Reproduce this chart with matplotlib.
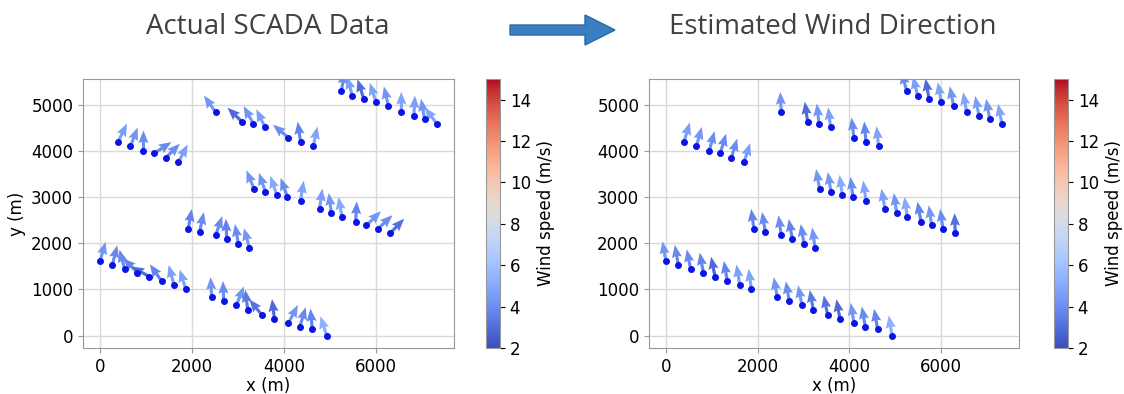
import numpy as np
import matplotlib
matplotlib.use('Agg')
import matplotlib.pyplot as plt
import matplotlib.patches as mpatches

# turbine positions (m), grouped by row
x_pos = [0, 269, 538, 814, 1069, 1338, 1607, 1862,
         2428, 2690, 2966, 3213, 3526, 3795, 4100, 4347, 4616, 4929,
         1919, 2166, 2515, 2755, 3010, 3250,
         3351, 3599, 3846, 4078, 4362, 4776, 5031, 5263, 5562, 5794, 6041, 6310,
         393, 662, 945, 1185, 1425, 1701,
         2515, 3090, 3337, 3591, 4100, 4362, 4638,
         5249, 5489, 5736, 6005, 6274, 6558, 6827, 7059, 7328]
y_pos = [1609, 1530, 1436, 1364, 1277, 1183, 1104, 1010,
         830, 743, 657, 556, 440, 354, 274, 195, 144, 0,
         2309, 2244, 2172, 2092, 1984, 1905,
         3175, 3110, 3045, 3001, 2922, 2749, 2655, 2569, 2468, 2388, 2309, 2215,
         4199, 4098, 4004, 3954, 3846, 3752,
         4841, 4632, 4589, 4509, 4286, 4199, 4098,
         5296, 5188, 5137, 5058, 4971, 4841, 4762, 4697, 4589]

# wind speed (m/s) per turbine
speed = [4.3, 3.9, 3.9, 3.7, 2.9, 3.7, 4.6, 4.8,
         4.3, 4.0, 4.3, 3.4, 3.2, 2.9, 4.3, 3.9, 3.7, 5.2,
         3.7, 3.9, 4.0, 3.7, 4.0, 4.3,
         4.3, 4.3, 5.0, 4.0, 4.8, 4.6, 4.3, 5.0, 3.7, 4.3, 4.0, 3.1,
         4.6, 4.3, 4.0, 3.9, 4.0, 4.6,
         4.3, 2.9, 4.3, 4.6, 4.0, 3.7, 4.8,
         4.0, 4.6, 3.0, 4.8, 4.3, 4.8, 4.6, 4.3, 4.8]

# arrow direction (deg, counter-clockwise from +x)
dir_actual = [74, 76, 105, 135, 150, 125, 105, 107,
              93, 92, 68, 97, 129, 97, 62, 73, 95, 108,
              80, 78, 71, 92, 100, 106,
              112, 109, 109, 110, 81, 82, 97, 100, 87, 44, 43, 46,
              64, 69, 90, 33, 45, 62,
              125, 136, 119, 116, 140, 98, 78,
              80, 105, 108, 108, 103, 91, 87, 100, 127]
dir_est = [100, 100, 101, 100, 101, 100, 99, 98,
           100, 100, 101, 100, 101, 100, 99, 100, 100, 99,
           98, 99, 98, 100, 99, 98,
           100, 99, 98, 97, 98, 100, 98, 98, 100, 98, 98, 92,
           73, 74, 75, 73, 73, 72,
           93, 98, 96, 97, 97, 95, 96,
           104, 103, 100, 100, 101, 100, 101, 100, 101]

x = np.array(x_pos)
y = np.array(y_pos)
c = np.array(speed)
arrow_len = 440

fig = plt.figure(figsize=(11.24, 3.94), dpi=100)

ax1 = fig.add_axes([83/1124, 46/394, 371/1124, 269/394])
ax2 = fig.add_axes([649/1124, 46/394, 370/1124, 269/394])
cax1 = fig.add_axes([486/1124, 46/394, 14/1124, 269/394])
cax2 = fig.add_axes([1054/1124, 46/394, 14/1124, 269/394])

for ax, cax, d, show_y in [(ax1, cax1, dir_actual, True), (ax2, cax2, dir_est, False)]:
    th = np.deg2rad(np.array(d))
    u = arrow_len * np.cos(th)
    v = arrow_len * np.sin(th)
    q = ax.quiver(x, y, u, v, c, cmap='coolwarm', clim=(2, 15),
                  angles='xy', scale_units='xy', scale=1,
                  width=0.0085, headwidth=3.2, headlength=4, headaxislength=3.6,
                  zorder=3)
    ax.scatter(x, y, s=16, color='#0a14e6', zorder=4)
    ax.set_xlim(-370, 7700)
    ax.set_ylim(-270, 5560)
    ax.set_xticks([0, 2000, 4000, 6000])
    ax.set_yticks([0, 1000, 2000, 3000, 4000, 5000])
    ax.grid(True, color='#d9d9d9', lw=1)
    ax.set_axisbelow(True)
    for s in ax.spines.values():
        s.set_color('#999999')
    ax.tick_params(labelsize=12, color='#999999')
    ax.set_xlabel('x (m)', fontsize=12, labelpad=1)
    if show_y:
        ax.set_ylabel('y (m)', fontsize=12)
    cb = fig.colorbar(q, cax=cax, ticks=[2, 4, 6, 8, 10, 12, 14])
    cb.ax.tick_params(labelsize=12)
    cb.outline.set_edgecolor('#999999')
    cb.set_label('Wind speed (m/s)', fontsize=12)

fig.text(268/1124, 1 - 27/394, 'Actual SCADA Data', ha='center', va='center',
         fontsize=20, color='#404040', family='Open Sans')
fig.text(833/1124, 1 - 27/394, 'Estimated Wind Direction', ha='center', va='center',
         fontsize=20, color='#404040', family='Open Sans')

arrow = mpatches.FancyArrow(5.10, 3.64, 0.75, 0, width=0.10, head_width=0.30,
                            head_length=0.30, length_includes_head=False,
                            transform=fig.dpi_scale_trans, color='#3a7fc1',
                            ec='#2a6aa6', lw=1)
fig.patches.append(arrow)

fig.savefig('out.png', dpi=100)
